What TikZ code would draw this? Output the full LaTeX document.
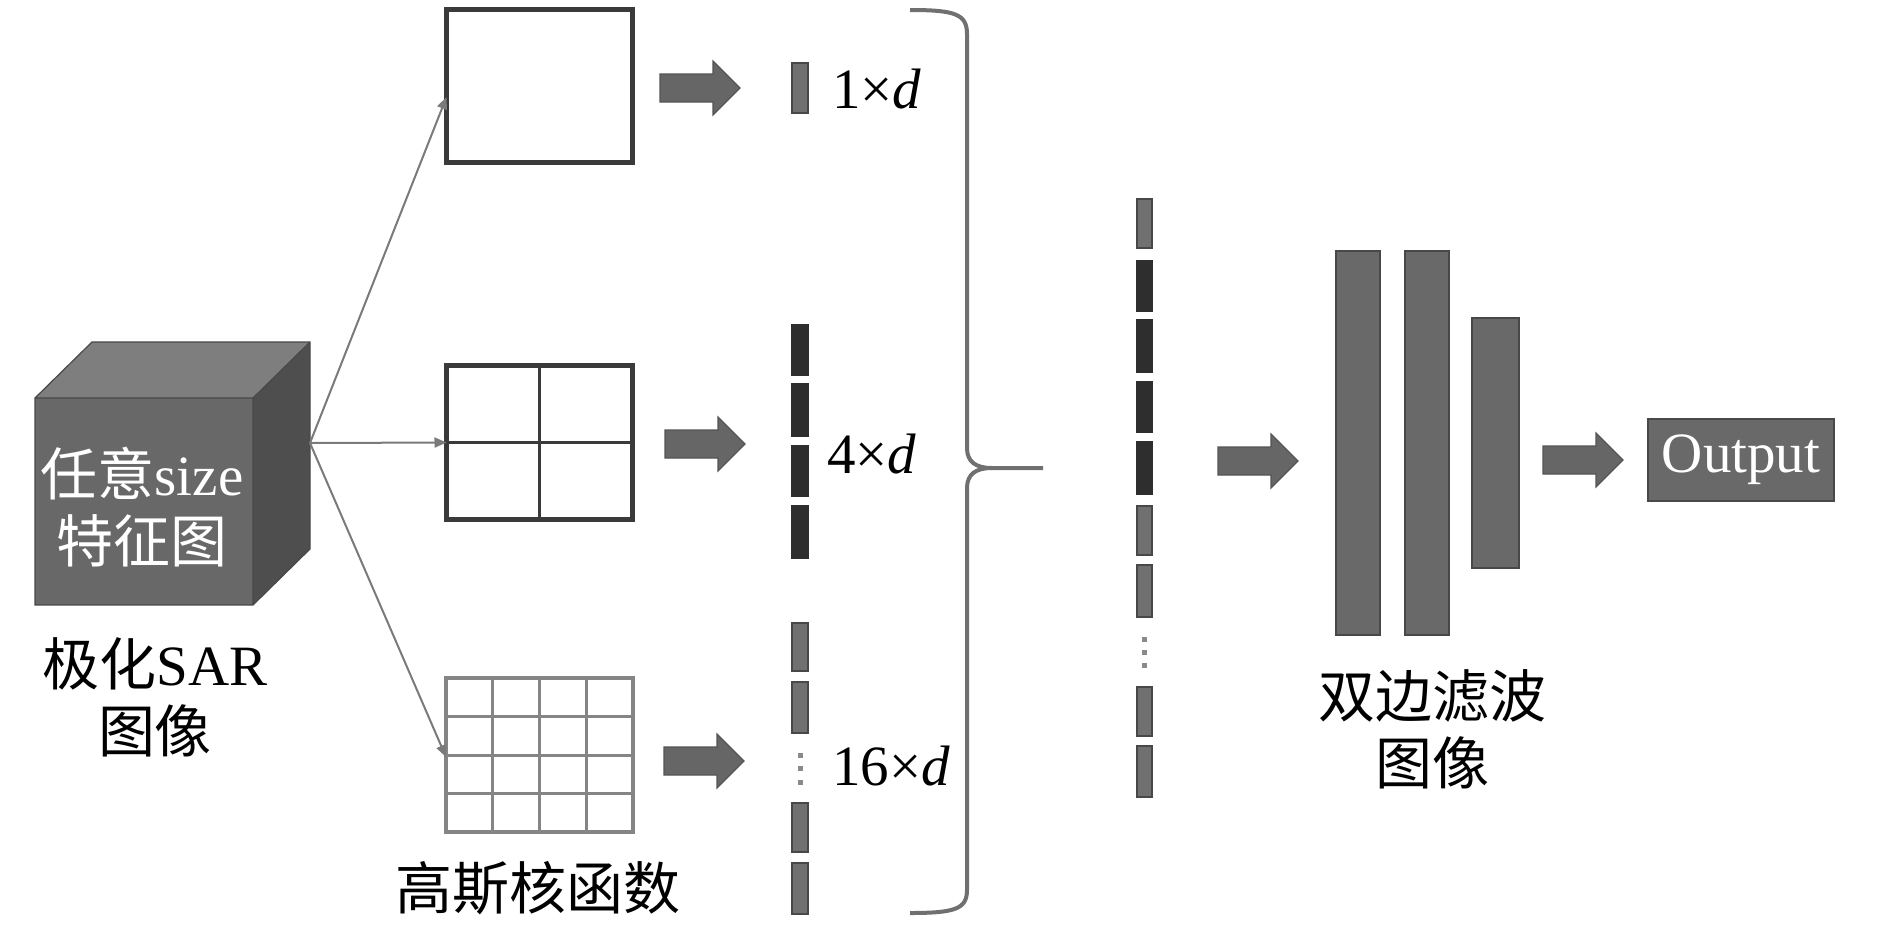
\documentclass[tikz,border=0pt]{standalone}
\usepackage{fontspec}
\setmainfont{Liberation Serif}
\newfontfamily\cjk{Noto Sans CJK SC}
\usetikzlibrary{arrows.meta,calc}
\definecolor{boxline}{HTML}{3A3A3A}
\definecolor{gridline}{HTML}{858585}
\definecolor{barg}{HTML}{707070}
\definecolor{bare}{HTML}{484848}
\definecolor{bard}{HTML}{2E2E2E}
\definecolor{arrfill}{HTML}{666666}
\definecolor{arredge}{HTML}{555555}
\definecolor{thinline}{HTML}{7A7A7A}
\definecolor{cubefront}{HTML}{686868}
\definecolor{cubetop}{HTML}{7E7E7E}
\definecolor{cubeside}{HTML}{4E4E4E}
\definecolor{bracecol}{HTML}{707070}
\definecolor{tallfill}{HTML}{696969}
\definecolor{dotc}{HTML}{8A8A8A}
\begin{document}
\begin{tikzpicture}[x=0.5pt,y=-0.5pt,
  lbl/.style={font=\fontsize{28.5}{33.5}\selectfont, inner sep=0pt, outer sep=0pt, align=center},
  lblcjk/.style={lbl, font=\cjk\fontsize{28.5}{33.5}\selectfont},
  fmap/.style={draw=boxline, line width=2.5pt, fill=white, inner sep=0pt, outer sep=0pt},
  fmapgrid/.style={draw=gridline, line width=2pt, fill=white, inner sep=0pt, outer sep=0pt},
  gridin/.style={draw=boxline, line width=1.5pt},
  gridinlight/.style={draw=gridline, line width=1.5pt},
  gbar/.style={fill=barg, draw=bare, line width=1pt},
  dbar/.style={fill=bard, draw=bard, line width=1pt},
  tall/.style={fill=tallfill, draw=bare, line width=1pt},
  thinarr/.style={draw=thinline, line width=1pt, -{Triangle[length=6pt,width=5pt]}},
  bracepath/.style={draw=bracecol, line width=2pt},
  outbox/.style={fill=tallfill, draw=bare, line width=1pt, text=white, minimum width=93pt, minimum height=41pt, inner sep=0pt, font=\fontsize{28.5}{33.5}\selectfont},
  fatarrow/.pic={\filldraw[fill=arrfill, draw=arredge, line width=0.6pt] (0,-14) -- (53,-14) -- (53,-27) -- (80,0) -- (53,27) -- (53,14) -- (0,14) -- cycle;}
]
\fill[white] (0,0) rectangle (1890,933);
\useasboundingbox (0,0) rectangle (1890,933);

% cube
\fill[cubefront] (35,398) rectangle (253,605);
\fill[cubetop] (35,398) -- (92,342) -- (310,342) -- (253,398) -- cycle;
\fill[cubeside] (253,398) -- (310,342) -- (310,549) -- (253,605) -- cycle;
\draw[draw=bare, line width=0.6pt] (35,398) -- (92,342) -- (310,342) -- (310,549) -- (253,605) -- (35,605) -- cycle (35,398) -- (253,398) -- (310,342) (253,398) -- (253,605);
\coordinate (cubeR) at (310,443);
\node[lbl, text=white] (cubetxt) at (142,507) {{\cjk 任意}size\\{\cjk 特征图}};
\node[lbl] (sarlbl) at (155,697) {{\cjk 极化}SAR\\{\cjk 图像}};

% pooling grids
\node[fmap, minimum width=93pt, minimum height=76.5pt] (top) at (539.5,86) {};
\node[fmap, minimum width=93pt, minimum height=77pt] (mid) at (539.5,442.5) {};
\draw[gridin] (mid.north) -- (mid.south);
\draw[gridin] (mid.west) -- (mid.east);
\node[fmapgrid, minimum width=93.5pt, minimum height=77pt] (bot) at (539.5,755) {};
\foreach \i in {1,2,3} {
  \draw[gridinlight] ($(bot.north west)!\i/4!(bot.north east)$) -- ($(bot.south west)!\i/4!(bot.south east)$);
  \draw[gridinlight] ($(bot.north west)!\i/4!(bot.south west)$) -- ($(bot.north east)!\i/4!(bot.south east)$);
}
\node[lblcjk] (gauss) at (538,888) {高斯核函数};

% thin arrows
\draw[thinarr] (cubeR) -- ([yshift=-5.5pt]top.west);
\draw[thinarr] (cubeR) -- (mid.west);
\draw[thinarr] (cubeR) -- ([yshift=-1pt]bot.west);

% fat arrows
\pic at (660,88) {fatarrow};
\pic at (665,444) {fatarrow};
\pic at (664,761) {fatarrow};
\pic at (1218,461) {fatarrow};
\pic at (1543,460) {fatarrow};

% vectors
\draw[gbar] (792,63) rectangle (808,113);
\foreach \a/\b in {325/375, 384/436, 446/496, 506/558}
  \draw[dbar] (792,\a) rectangle (808,\b);
\foreach \a/\b in {623/671, 682/733, 803/852, 863/914}
  \draw[gbar] (792,\a) rectangle (808,\b);
\foreach \y in {753,766,780}
  \fill[dotc] (797.5,\y) rectangle (802.5,\y+5);

\node[lbl, anchor=base west] (d1) at (832,108) {1×\textit{d}};
\node[lbl, anchor=base west] (d4) at (827,473) {4×\textit{d}};
\node[lbl, anchor=base west] (d16) at (832,785) {16×\textit{d}};

% brace
\coordinate (btip) at (1043,468);
\draw[bracepath] (910,10) .. controls (955,10) and (967,14) .. (967,34) -- (967,448) .. controls (967,462) and (976,468) .. (992,468) -- (btip);
\draw[bracepath] (992,468) .. controls (976,468) and (967,474) .. (967,488) -- (967,890) .. controls (967,909) and (955,913) .. (910,913);

% concatenated vector
\foreach \a/\b in {199/248, 506/555, 565/617, 687/736, 746/797}
  \draw[gbar] (1137,\a) rectangle (1152,\b);
\foreach \a/\b in {261/311, 320/372, 382/432, 442/494}
  \draw[dbar] (1137,\a) rectangle (1152,\b);
\foreach \y in {637,650,663}
  \fill[dotc] (1142,\y) rectangle (1147,\y+5);

% bilateral filter maps
\draw[tall] (1336,251) rectangle (1380,635);
\draw[tall] (1405,251) rectangle (1449,635);
\draw[tall] (1472,318) rectangle (1519,568);
\node[lblcjk] (bflbl) at (1432,729) {双边滤波\\图像};

% output
\node[outbox] (out) at (1741,460) {Output};
\end{tikzpicture}
\end{document}
